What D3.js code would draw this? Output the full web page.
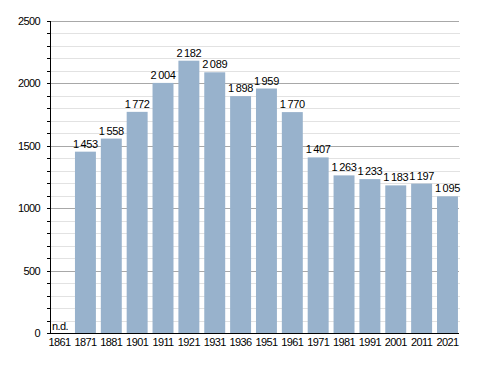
<!DOCTYPE html>
<html>
<head>
<meta charset="utf-8">
<script src="https://cdn.jsdelivr.net/npm/d3@7"></script>
<style>
  body { margin: 0; background: #fff; }
  text { font-family: "Liberation Sans", Arial, sans-serif; font-size: 11px; letter-spacing: -0.6px; fill: #000; }
  text.val { letter-spacing: -0.35px; }
</style>
</head>
<body>
<svg id="chart" width="488" height="373"></svg>
<script>
var years = ['1861', '1871', '1881', '1901', '1911', '1921', '1931', '1936', '1951', '1961', '1971', '1981', '1991', '2001', '2011', '2021'];
var population = [null, 1453, 1558, 1772, 2004, 2182, 2089, 1898, 1959, 1770, 1407, 1263, 1233, 1183, 1197, 1095];
var majorTicks = [0, 500, 1000, 1500, 2000, 2500];

var data = years.map((y, i) => ({ year: y, value: population[i] }));

var svg = d3.select('#chart');
var plotLeft = 50, plotRight = 459, plotTop = 21, plotBottom = 333;

var y = d3.scaleLinear().domain([0, 2500]).range([plotBottom, plotTop]);
var step = 25.86;
var x = d3.scaleBand()
  .domain(years)
  .range([49.1, 49.1 + step * (years.length - 0.19)])
  .paddingInner(0.19)
  .paddingOuter(0);

var minorTicks = d3.range(0, 2501, 100).filter(d => d % 500 !== 0);

// minor gridlines
svg.append('g').selectAll('line')
  .data(minorTicks)
  .enter().append('line')
    .attr('x1', plotLeft).attr('x2', plotRight + 1)
    .attr('y1', d => Math.round(y(d)) + 0.5)
    .attr('y2', d => Math.round(y(d)) + 0.5)
    .attr('stroke', '#e2e2e2');

// major gridlines
svg.append('g').selectAll('line')
  .data(majorTicks.filter(d => d > 0))
  .enter().append('line')
    .attr('x1', plotLeft).attr('x2', plotRight)
    .attr('y1', d => Math.round(y(d)) + 0.5)
    .attr('y2', d => Math.round(y(d)) + 0.5)
    .attr('stroke', '#a8a8a8');

// bars
svg.append('g').selectAll('rect')
  .data(data.filter(d => d.value != null))
  .enter().append('rect')
    .attr('x', d => x(d.year))
    .attr('width', x.bandwidth())
    .attr('y', d => y(d.value))
    .attr('height', d => plotBottom - y(d.value))
    .attr('fill', '#98b2cc');

// value labels
var fmt = v => {
  var s = String(v);
  return s.length > 3 ? s.slice(0, s.length - 3) + '\u2009' + s.slice(-3) : s;
};
svg.append('g').selectAll('text')
  .data(data.filter(d => d.value != null))
  .enter().append('text')
    .attr('class', 'val')
    .attr('x', d => x(d.year) + x.bandwidth() / 2)
    .attr('y', d => y(d.value) - 4)
    .attr('text-anchor', 'middle')
    .text(d => fmt(d.value));

svg.append('text')
  .attr('x', plotLeft + 2)
  .attr('y', plotBottom - 3)
  .text('n.d.');

// y axis
var yAxis = svg.append('g');
yAxis.append('line')
  .attr('x1', plotLeft + 0.5).attr('x2', plotLeft + 0.5)
  .attr('y1', plotTop).attr('y2', plotBottom)
  .attr('stroke', '#000');
yAxis.selectAll('.tick')
  .data(d3.range(0, 2501, 100))
  .enter().append('line')
    .attr('x1', plotLeft - 3).attr('x2', plotLeft)
    .attr('y1', d => Math.round(y(d)) + 0.5)
    .attr('y2', d => Math.round(y(d)) + 0.5)
    .attr('stroke', '#000');
yAxis.selectAll('text')
  .data(majorTicks)
  .enter().append('text')
    .attr('x', 40)
    .attr('y', d => y(d) + 4)
    .attr('text-anchor', 'end')
    .text(d => d);

// x axis
svg.append('line')
  .attr('x1', plotLeft).attr('x2', plotRight)
  .attr('y1', plotBottom + 0.5).attr('y2', plotBottom + 0.5)
  .attr('stroke', '#000');
svg.append('g').selectAll('text')
  .data(years)
  .enter().append('text')
    .attr('x', d => x(d) + x.bandwidth() / 2)
    .attr('y', plotBottom + 13)
    .attr('text-anchor', 'middle')
    .text(d => d);
</script>
</body>
</html>
